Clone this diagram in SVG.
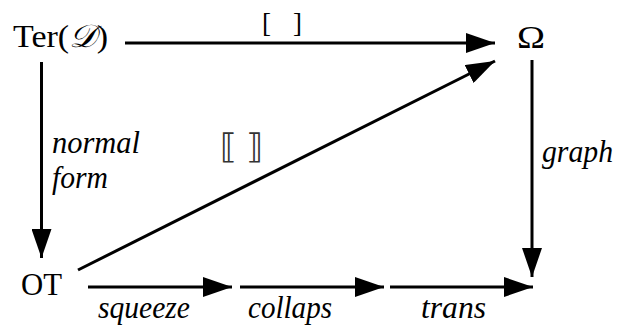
<svg xmlns="http://www.w3.org/2000/svg" width="622" height="328" viewBox="0 0 622 328">
<style>
text{font-family:'Liberation Serif','Times New Roman',Times,serif}
.n{font-size:32px;fill:#000}
.l{font-size:32px;font-style:italic;fill:#000}
.c{stroke:#000;stroke-width:3;fill:none;marker-end:url(#ah)}
</style>
<defs>
<marker id="ah" markerUnits="userSpaceOnUse" markerWidth="30" markerHeight="20" refX="29" refY="10" orient="auto" viewBox="0 0 30 20">
<path d="M0,0 L29,10 L0,20 z" fill="#000"/>
</marker>
</defs>
<rect width="622" height="328" fill="#fff"/>
<g id="ter"><text class="n" font-family="'Liberation Serif', serif" x="13" y="47" textLength="95" lengthAdjust="spacingAndGlyphs">Ter(<tspan font-style="italic">𝒟</tspan>)</text></g>
<g id="omega"><text class="n" font-family="'Liberation Serif', serif" x="517" y="48" textLength="28" lengthAdjust="spacingAndGlyphs">Ω</text></g>
<g id="ot"><text class="n" font-family="'Liberation Serif', serif" x="21" y="295" textLength="41" lengthAdjust="spacingAndGlyphs">OT</text></g>
<g id="connectors">
<line class="c" x1="125" y1="43" x2="495" y2="43"/>
<line class="c" x1="41.5" y1="62" x2="41.5" y2="258"/>
<line class="c" x1="78" y1="270" x2="495" y2="61"/>
<line class="c" x1="532" y1="60" x2="532" y2="277"/>
<line class="c" x1="88" y1="287" x2="232" y2="287"/>
<line class="c" x1="240" y1="287" x2="384" y2="287"/>
<line class="c" x1="390" y1="287" x2="533" y2="287"/>
</g>
<g id="labels">
<text class="n" font-family="'Liberation Serif', serif" x="262" y="32" style="font-size:27px" textLength="40" lengthAdjust="spacing">[ ]</text>
<text x="220" y="158" font-family="'DejaVu Serif', 'DejaVu Sans', serif" style="font-family:'DejaVu Serif','DejaVu Sans',serif;font-size:34px;fill:#333" textLength="43" lengthAdjust="spacing">⟦ ⟧</text>
<text class="l" font-family="'Liberation Serif', serif" x="52" y="153" textLength="88" lengthAdjust="spacingAndGlyphs">normal</text>
<text class="l" font-family="'Liberation Serif', serif" x="52" y="188" textLength="56" lengthAdjust="spacingAndGlyphs">form</text>
<text class="l" font-family="'Liberation Serif', serif" x="542" y="162" textLength="71" lengthAdjust="spacingAndGlyphs">graph</text>
<text class="l" font-family="'Liberation Serif', serif" x="98" y="318" textLength="92" lengthAdjust="spacingAndGlyphs">squeeze</text>
<text class="l" font-family="'Liberation Serif', serif" x="248" y="318" textLength="84" lengthAdjust="spacingAndGlyphs">collaps</text>
<text class="l" font-family="'Liberation Serif', serif" x="421" y="318" textLength="65" lengthAdjust="spacingAndGlyphs">trans</text>
</g>
</svg>
